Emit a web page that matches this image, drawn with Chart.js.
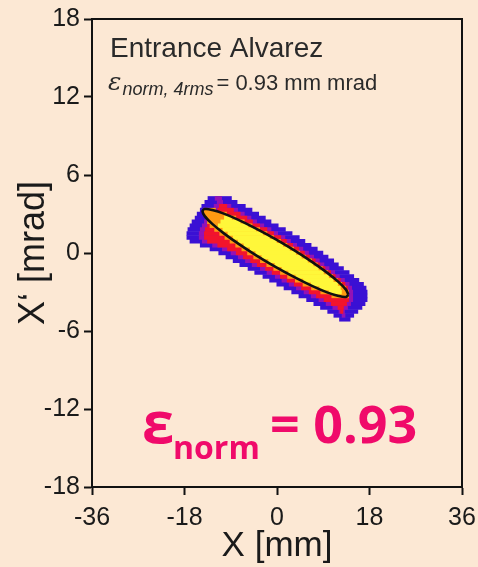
<!DOCTYPE html>
<html>
<head>
<meta charset="utf-8">
<script src="https://cdn.jsdelivr.net/npm/chart.js@4/dist/chart.umd.min.js"></script>
<style>
  html, body { margin: 0; padding: 0; background: #FCE8D4; }
  #wrap { position: relative; width: 478px; height: 567px; }
</style>
</head>
<body>
<div id="wrap"><canvas id="c"></canvas></div>
<script>
// Phase-space histogram rows: X' [mrad] of each row of bins
const rowXp = [4.2, 3.9, 3.6, 3.3, 3.0, 2.7, 2.4, 2.1, 1.8, 1.5, 1.2, 0.9, 0.6, 0.3, 0.0,
  -0.3, -0.6, -0.9, -1.2, -1.5, -1.8, -2.1, -2.4, -2.7, -3.0, -3.3, -3.6, -3.9, -4.2, -4.5, -4.8, -5.1];

// X [mm] extent of each density level in every row (null = level absent)
const levelLow = [
  [-13.5,-8.8],[-14.1,-7.7],[-14.7,-6.1],[-15.0,-4.8],[-15.6,-3.5],[-16.0,-2.2],[-16.6,-1.1],[-17.0,0.3],
  [-17.4,1.7],[-17.6,3.0],[-17.6,4.4],[-17.0,5.5],[-15.0,6.7],[-13.1,7.9],[-11.4,9.0],[-10.0,10.0],
  [-8.6,11.1],[-7.3,12.0],[-5.7,13.0],[-4.4,14.1],[-2.8,15.0],[-1.5,16.0],[-0.1,16.9],[1.3,17.4],
  [2.8,17.6],[4.2,17.6],[5.7,17.6],[7.1,17.2],[8.4,16.6],[9.8,15.8],[11.0,15.0],[12.1,14.3]
];
const levelMidLow = [
  [-12.1,-10.7],[-11.7,-10.5],[-12.3,-8.9],[-12.6,-7.6],[-13.2,-6.3],[-13.6,-5.0],[-14.2,-3.9],[-14.6,-2.5],
  [-15.0,-1.1],[-15.2,0.2],[-15.2,1.6],[-14.6,2.7],[-12.6,3.9],[-10.7,5.1],[-9.0,6.2],[-7.6,7.2],
  [-6.2,8.3],[-4.9,9.2],[-3.3,10.2],[-2.0,11.3],[-0.4,12.2],[0.9,13.2],[2.3,14.1],[3.7,14.6],
  [5.2,14.8],[6.6,14.8],[8.1,14.8],[9.5,14.4],[10.8,13.8],[12.0,13.2],[12.6,13.3],null
];
const levelMid = [
  null,null,[-11.3,-9.7],[-11.6,-8.4],[-12.2,-7.1],[-12.6,-5.8],[-13.2,-4.7],[-13.6,-3.3],
  [-14.0,-1.9],[-14.2,-0.6],[-14.2,0.8],[-13.6,1.9],[-11.6,3.1],[-9.7,4.3],[-8.0,5.4],[-6.6,6.4],
  [-5.2,7.5],[-3.9,8.4],[-2.3,9.4],[-1.0,10.5],[0.6,11.4],[1.9,12.4],[3.3,13.3],[4.7,13.8],
  [6.2,14.0],[7.6,14.0],[9.1,14.0],[10.5,13.6],[11.8,13.0],[12.3,12.9],null,null
];
const levelHigh = [
  null,null,null,[-14.3,-11.9],[-14.2,-9.75],[-13.7,-7.95],[-13.6,-6.3],[-13.1,-4.8],
  [-12.2,-3.3],[-11.2,-1.9],[-10.2,-0.6],[-9.2,0.75],[-8.1,2.0],[-6.9,3.3],[-5.8,4.5],[-4.6,5.6],
  [-3.3,6.8],[-2.05,7.9],[-0.7,8.9],[0.6,9.9],[2.0,10.9],[3.5,11.8],[5.0,12.65],[6.65,13.4],
  [8.45,13.95],[10.6,14.0],null,null,null,null,null,null
];
const levelPeak = [
  null,null,null,null,null,[-10.3,-8.8],[-11.0,-7.1],[-11.5,-5.6],
  [-10.6,-4.1],[-9.6,-2.7],[-8.6,-1.4],[-7.6,-0.05],[-6.5,1.2],[-5.3,2.5],[-4.2,3.7],[-3.0,4.8],
  [-1.7,6.0],[-0.45,7.1],[0.9,8.1],[2.2,9.1],[3.6,10.1],[5.1,11.0],[6.6,11.85],[8.25,12.4],
  [10.05,12.6],null,null,null,null,null,null,null
];

// 4-rms emittance ellipse outline
const ellipseX  = [13.9, 13.42, 12.0, 9.74, 6.8, 3.38, -0.3, -3.98, -7.4, -10.34, -12.6, -14.02, -14.5,
  -14.02, -12.6, -10.34, -7.4, -3.98, -0.3, 3.38, 6.8, 9.74, 12.0, 13.42, 13.9];
const ellipseXp = [-3.21, -3.38, -3.31, -3.03, -2.53, -1.86, -1.07, -0.20, 0.68, 1.51, 2.24, 2.82, 3.21,
  3.38, 3.31, 3.03, 2.53, 1.86, 1.07, 0.20, -0.68, -1.51, -2.24, -2.82, -3.21];

// Axis ticks
const xTicks = [-36, -18, 0, 18, 36];
const yTicks = [-18, -12, -6, 0, 6, 12, 18];

const levelColors = ['#3A10D4', '#9412B4', '#F2142C', '#FF9A12', '#FFF73A'];
const levels = [levelLow, levelMidLow, levelMid, levelHigh, levelPeak];

function rowsToBars(ranges) {
  const out = [];
  ranges.forEach((r, i) => { if (r) out.push({ x: r, y: rowXp[i] }); });
  return out;
}

const datasets = levels.map((ranges, i) => ({
  type: 'bar',
  indexAxis: 'y',
  data: rowsToBars(ranges),
  backgroundColor: levelColors[i],
  borderWidth: 0,
  grouped: false,
  categoryPercentage: 1,
  barPercentage: 1.15,
  order: 10 - i
}));

datasets.push({
  type: 'line',
  data: ellipseX.map((x, i) => ({ x: x, y: ellipseXp[i] })),
  borderColor: '#111111',
  borderWidth: 2.6,
  pointRadius: 0,
  fill: false,
  tension: 0.35,
  order: 0
});

const frameAndLabels = {
  id: 'frameAndLabels',
  afterDatasetsDraw(chart) {
    const { ctx, chartArea: a } = chart;
    ctx.save();
    ctx.strokeStyle = '#111';
    ctx.lineWidth = 2;
    ctx.strokeRect(a.left, a.top, a.right - a.left, a.bottom - a.top);
    ctx.restore();
  },
  afterDraw(chart) {
    const ctx = chart.ctx;
    ctx.save();
    ctx.textBaseline = 'alphabetic';
    ctx.fillStyle = '#2a2a2a';
    ctx.font = '28px "Liberation Sans", Arial, sans-serif';
    ctx.fillText('Entrance Alvarez', 110, 57);

    let x = 108;
    ctx.font = 'italic 25px "DejaVu Serif", serif';
    ctx.fillText('\u03B5', x, 90);
    x += ctx.measureText('\u03B5').width + 1;
    ctx.font = 'italic 18px "Liberation Sans", Arial, sans-serif';
    ctx.fillText('norm, 4rms', x, 95);
    x += ctx.measureText('norm, 4rms').width + 3;
    ctx.font = '22px "Liberation Sans", Arial, sans-serif';
    ctx.fillText('= 0.93 mm mrad', x, 90);

    ctx.fillStyle = '#F00A6A';
    ctx.font = 'bold 58px "Open Sans", sans-serif';
    ctx.fillText('\u03B5', 142, 443);
    ctx.font = 'bold 32px "Open Sans", sans-serif';
    ctx.fillText('norm', 173, 459);
    ctx.font = 'bold 52px "Open Sans", sans-serif';
    ctx.fillText('= 0.93', 270, 443);
    ctx.restore();
  }
};

const fontFamily = '"Liberation Sans", Arial, sans-serif';

new Chart(document.getElementById('c'), {
  type: 'scatter',
  data: { datasets },
  options: {
    responsive: true,
    maintainAspectRatio: false,
    animation: false,
    events: [],
    layout: { padding: { top: 15, right: 16, left: 0, bottom: 0 } },
    plugins: { legend: { display: false }, tooltip: { enabled: false } },
    scales: {
      x: {
        type: 'linear',
        min: -36, max: 36,
        offset: false,
        afterBuildTicks: s => { s.ticks = xTicks.map(v => ({ value: v })); },
        afterFit: s => { s.height = 80; },
        ticks: { font: { family: fontFamily, size: 25, lineHeight: 1.76 }, color: '#1a1a1a', padding: 1, maxRotation: 0, autoSkip: false },
        grid: { display: true, drawOnChartArea: false, drawTicks: true, tickLength: 8, tickWidth: 2, color: '#111', offset: false },
        border: { display: true, color: '#111', width: 2 },
        title: { display: true, text: 'X [mm]', font: { family: fontFamily, size: 35 }, color: '#1a1a1a', padding: { top: 0, bottom: 0 } }
      },
      y: {
        type: 'linear',
        min: -18, max: 18,
        offset: false,
        afterBuildTicks: s => { s.ticks = yTicks.map(v => ({ value: v })); },
        afterFit: s => { s.width = 92; },
        ticks: { font: { family: fontFamily, size: 25 }, color: '#1a1a1a', padding: 4, autoSkip: false },
        grid: { display: true, drawOnChartArea: false, drawTicks: true, tickLength: 8, tickWidth: 2, color: '#111', offset: false },
        border: { display: true, color: '#111', width: 2 },
        title: { display: true, text: 'X\u2018 [mrad]', font: { family: fontFamily, size: 36 }, color: '#1a1a1a', padding: { top: 12, bottom: 0 } }
      }
    }
  },
  plugins: [frameAndLabels]
});
</script>
</body>
</html>
